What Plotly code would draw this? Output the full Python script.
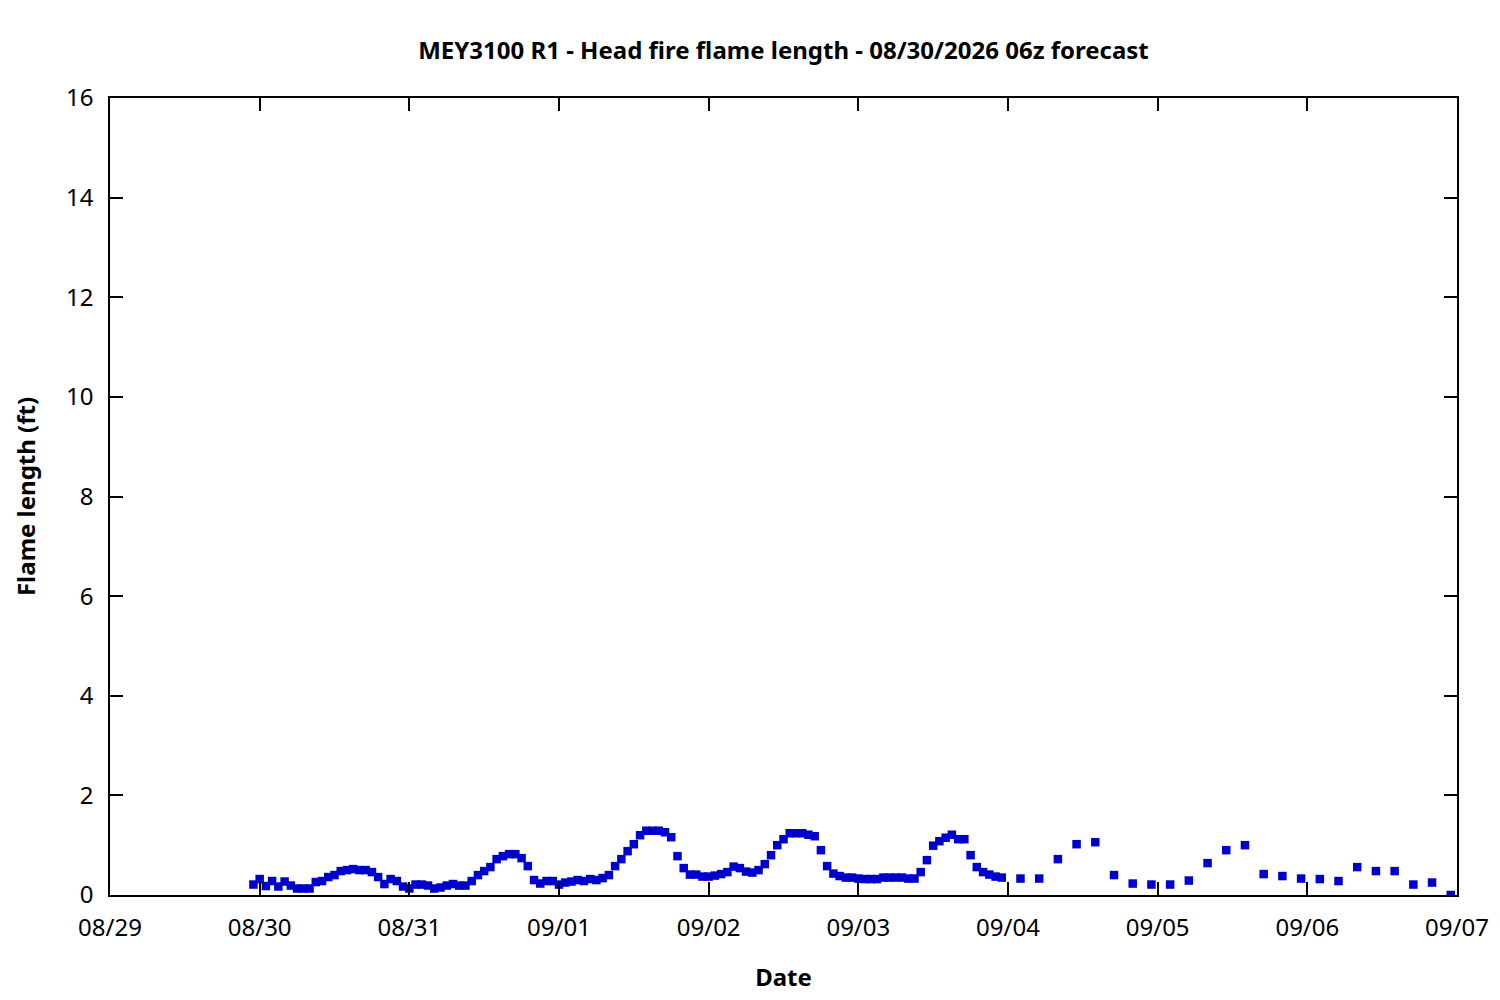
import pandas as pd
import plotly.graph_objects as go

# hourly forecast, 08/29 23:00 -> 09/03 23:00 (local)
hourly_start = "2026-08-29 23:00"
hourly_flame = [
    0.21, 0.32, 0.18, 0.28, 0.17, 0.27, 0.19, 0.13, 0.13, 0.13,
    0.26, 0.28, 0.36, 0.40, 0.48, 0.50, 0.52, 0.50, 0.50, 0.46,
    0.36, 0.22, 0.32, 0.28, 0.17, 0.13, 0.21, 0.21, 0.19, 0.13,
    0.15, 0.19, 0.22, 0.19, 0.19, 0.28, 0.40, 0.48, 0.56, 0.72,
    0.78, 0.82, 0.82, 0.74, 0.58, 0.30, 0.23, 0.28, 0.28, 0.21,
    0.25, 0.27, 0.30, 0.28, 0.32, 0.30, 0.34, 0.40, 0.58, 0.72,
    0.88, 1.02, 1.20, 1.29, 1.29, 1.29, 1.26, 1.16, 0.78, 0.54,
    0.41, 0.41, 0.37, 0.37, 0.39, 0.42, 0.46, 0.57, 0.54, 0.47,
    0.45, 0.50, 0.62, 0.80, 1.00, 1.12, 1.24, 1.24, 1.24, 1.21,
    1.18, 0.90, 0.58, 0.43, 0.38, 0.35, 0.35, 0.33,
    0.32, 0.32, 0.32, 0.35, 0.35, 0.35, 0.35, 0.33, 0.33, 0.46,
    0.70, 0.99, 1.08, 1.15, 1.21, 1.12, 1.12, 0.80, 0.56, 0.46,
    0.41, 0.37, 0.35,
]

# 3-hourly forecast, 09/04 02:00 -> 09/06 23:00
threehr_start = "2026-09-04 02:00"
threehr_flame = [
    0.33, 0.33, 0.72, 1.02, 1.06, 0.40, 0.23, 0.21,
    0.21, 0.29, 0.64, 0.90, 1.00, 0.42, 0.38, 0.33,
    0.32, 0.28, 0.56, 0.48, 0.48, 0.21, 0.25, 0.00,
]

day_ticks = pd.date_range("2026-08-29", "2026-09-07", freq="D")

t_hourly = pd.date_range(hourly_start, periods=len(hourly_flame), freq="h")
t_3hr = pd.date_range(threehr_start, periods=len(threehr_flame), freq="3h")

times = list(t_hourly) + list(t_3hr)
flame = hourly_flame + threehr_flame

fig = go.Figure()
fig.add_trace(go.Scatter(
    x=times,
    y=flame,
    mode="markers",
    marker=dict(symbol="square", size=8.5, color="#0000cc"),
    showlegend=False,
))

axis_common = dict(
    showline=True, linecolor="black", linewidth=1.5, mirror="allticks",
    ticks="inside", ticklen=13, tickcolor="black", tickwidth=1.5,
    showgrid=False, zeroline=False,
    tickfont=dict(size=24, color="black"),
)

fig.update_layout(
    width=1500, height=1000,
    paper_bgcolor="white", plot_bgcolor="white",
    font=dict(family="Noto Sans, Open Sans, sans-serif", color="black"),
    title=dict(
        text="<b>MEY3100 R1 - Head fire flame length - 08/30/2026 06z forecast</b>",
        x=0.517, xanchor="center", y=0.957, yanchor="middle",
        font=dict(size=24),
    ),
    margin=dict(l=102, r=51, t=90, b=113),
    xaxis=dict(
        axis_common,
        range=[day_ticks[0], day_ticks[-1]],
        tickvals=list(day_ticks),
        ticktext=[d.strftime("%m/%d") for d in day_ticks],
        ticklabelstandoff=10,
        title=dict(text="<b>Date</b>", font=dict(size=24), standoff=28),
    ),
    yaxis=dict(
        axis_common,
        range=[0, 16],
        dtick=2,
        ticklabelstandoff=10,
        title=dict(text="<b>Flame length (ft)</b>", font=dict(size=24), standoff=24),
    ),
)

fig.write_html("out.html")
